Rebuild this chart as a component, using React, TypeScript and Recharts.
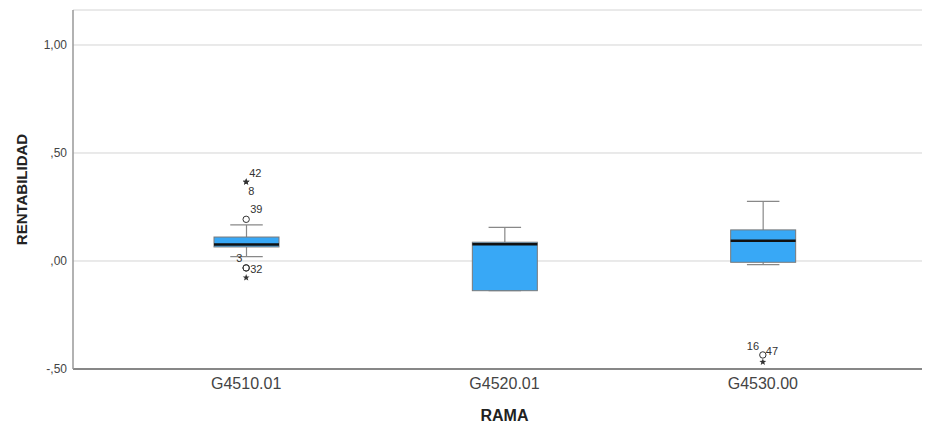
import { ComposedChart, Bar, Scatter, XAxis, YAxis, CartesianGrid } from "recharts";

// box plot statistics
const CATEGORIES = ["G4510.01", "G4520.01", "G4530.00"];
const WHISKER_LOW = [0.02, -0.1375, -0.017];
const Q1 = [0.065, -0.1375, -0.006];
const MEDIAN = [0.076, 0.077, 0.094];
const Q3 = [0.111, 0.087, 0.144];
const WHISKER_HIGH = [0.167, 0.156, 0.276];

// outliers (o = circle, * = extreme)
const OUTLIER_CAT = ["G4510.01", "G4510.01", "G4510.01", "G4510.01", "G4510.01", "G4510.01", "G4530.00", "G4530.00"];
const OUTLIER_VALUE = [0.366, 0.366, 0.193, -0.032, -0.032, -0.077, -0.435, -0.468];
const OUTLIER_KIND = ["star", "star", "circle", "circle", "circle", "star", "circle", "star"];
const OUTLIER_CASE = ["42", "8", "39", "3", "32", "", "16", "47"];

const Y_TICKS = [-0.5, 0, 0.5, 1];

// label placement next to each marker
const LABEL_OFFSET: Record<string, [number, number]> = {
  "42": [3, -9],
  "8": [2, 9],
  "39": [4, -10],
  "3": [-10, -10],
  "32": [4, 1],
  "16": [-16, -9],
  "47": [3, -11],
};

const FONT = "'Liberation Sans', Arial, sans-serif";
const BOX_FILL = "#38a8f6";

const boxes = CATEGORIES.map((cat, i) => ({
  cat,
  range: [WHISKER_LOW[i], WHISKER_HIGH[i]],
  q1: Q1[i],
  median: MEDIAN[i],
  q3: Q3[i],
}));

const outliers = OUTLIER_CAT.map((cat, i) => ({
  cat,
  value: OUTLIER_VALUE[i],
  kind: OUTLIER_KIND[i],
  id: OUTLIER_CASE[i],
}));

const fmt = (v: number) =>
  v.toFixed(2).replace(".", ",").replace(/^0/, "").replace("-0", "-");

function BoxShape(props: any) {
  const { x, y, width, height, payload } = props;
  const [lo, hi] = payload.range;
  const top = Math.min(y, y + height);
  const bottom = Math.max(y, y + height);
  const toY = (v: number) => bottom - ((v - lo) / (hi - lo)) * (bottom - top);
  const cx = x + width / 2;
  const cap = width / 4;
  const yq1 = toY(payload.q1);
  const yq3 = toY(payload.q3);
  const ymed = toY(payload.median);
  return (
    <g>
      <line x1={cx} x2={cx} y1={top} y2={yq3} stroke="#888" strokeWidth={1.2} />
      <line x1={cx} x2={cx} y1={yq1} y2={bottom} stroke="#888" strokeWidth={1.2} />
      <line x1={cx - cap} x2={cx + cap} y1={top} y2={top} stroke="#888" strokeWidth={1.2} />
      <line x1={cx - cap} x2={cx + cap} y1={bottom} y2={bottom} stroke="#888" strokeWidth={1.2} />
      <rect x={x} y={yq3} width={width} height={Math.max(yq1 - yq3, 1)} fill={BOX_FILL} stroke="#7a7a7a" strokeWidth={1} />
      <line x1={x} x2={x + width} y1={ymed} y2={ymed} stroke="#111" strokeWidth={2.5} />
    </g>
  );
}

function starPath(cx: number, cy: number, r: number) {
  let d = "";
  for (let k = 0; k < 10; k++) {
    const rr = k % 2 === 0 ? r : r * 0.42;
    const a = -Math.PI / 2 + (k * Math.PI) / 5;
    d += (k === 0 ? "M" : "L") + (cx + rr * Math.cos(a)).toFixed(2) + "," + (cy + rr * Math.sin(a)).toFixed(2);
  }
  return d + "Z";
}

function OutlierShape(props: any) {
  const { cx, cy, payload } = props;
  const off = LABEL_OFFSET[payload.id];
  return (
    <g>
      {payload.kind === "circle" ? (
        <circle cx={cx} cy={cy} r={3.2} fill="none" stroke="#333" strokeWidth={1} />
      ) : (
        <path d={starPath(cx, cy, 3.6)} fill="#333" />
      )}
      {off && (
        <text
          x={cx + off[0]}
          y={cy + off[1]}
          dy="0.35em"
          fontSize={11}
          fontFamily={FONT}
          style={{ fill: "#333", stroke: "none" }}
        >
          {payload.id}
        </text>
      )}
    </g>
  );
}

export default function App() {
  return (
    <div style={{ position: "absolute", left: 0, top: 0, background: "#fff" }}>
      <ComposedChart width={925} height={423} data={boxes} margin={{ top: 10, right: 3, bottom: 0, left: 0 }}>
        <CartesianGrid horizontal vertical={false} stroke="#d4d4d4" />
        <XAxis
          dataKey="cat"
          type="category"
          allowDuplicatedCategory={false}
          padding={{ left: 44, right: 30 }}
          height={54}
          tickLine={false}
          tickMargin={3}
          axisLine={{ stroke: "#666", strokeWidth: 1.5 }}
          tick={{ fontSize: 16, fill: "#444", fontFamily: FONT }}
          label={{
            content: ({ viewBox }: any) => (
              <text
                x={viewBox.x + 44 + (viewBox.width - 74) / 2}
                y={415}
                textAnchor="middle"
                dominantBaseline="central"
                fontSize={16}
                fontWeight="bold"
                fill="#222"
                fontFamily={FONT}
              >
                RAMA
              </text>
            ),
          }}
        />
        <YAxis
          type="number"
          domain={[-0.5, 1.162]}
          ticks={Y_TICKS}
          allowDataOverflow
          width={73}
          tickLine={false}
          tickSize={6}
          tickMargin={0}
          tickFormatter={fmt}
          axisLine={{ stroke: "#999", strokeWidth: 1.5 }}
          tick={{ fontSize: 12, fill: "#444", fontFamily: FONT }}
          label={{
            content: ({ viewBox }: any) => (
              <text
                x={21}
                y={viewBox.y + viewBox.height / 2}
                textAnchor="middle"
                dominantBaseline="central"
                transform={`rotate(-90 21 ${viewBox.y + viewBox.height / 2})`}
                fontSize={15}
                fontWeight="bold"
                fill="#222"
                fontFamily={FONT}
              >
                RENTABILIDAD
              </text>
            ),
          }}
        />
        <Bar dataKey="range" barSize={65} shape={<BoxShape />} isAnimationActive={false} />
        <Scatter data={outliers} dataKey="value" shape={<OutlierShape />} isAnimationActive={false} />
      </ComposedChart>
    </div>
  );
}
